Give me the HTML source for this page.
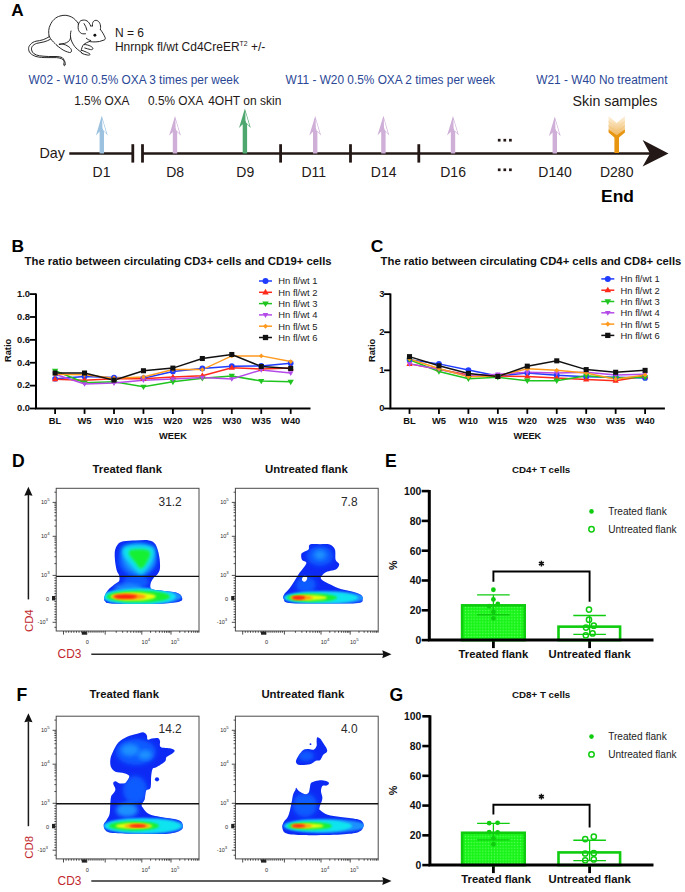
<!DOCTYPE html>
<html><head><meta charset="utf-8"><title>Figure</title>
<style>
html,body{margin:0;padding:0;background:#fff;}
body{width:685px;height:892px;overflow:hidden;}
svg{display:block;}
svg text{font-family:"Liberation Sans",sans-serif;}
</style></head><body>
<svg width="685" height="892" viewBox="0 0 685 892">
<rect width="685" height="892" fill="#fff"/>
<text x="11.2" y="16" font-size="17.2" font-weight="bold" fill="#000">A</text>
<g fill="none" stroke="#1e1e1e" stroke-width="0.95" stroke-linecap="round" stroke-linejoin="round">
<path d="M49.1,36.1 C48.3,32.5 48.6,28 50.2,25.1 C51.3,22.5 52.6,20.8 54.2,19.3 C56,17.6 58,16.5 60,16 C62,15.4 64,15.2 65.9,15.3 C68,15.5 70,16.2 71.7,17.1 C74.5,18.6 76.7,21 78.4,23.6"/>
<path d="M78.4,24.4 C79,22 80.3,20.6 81.9,20.3 C83.5,19.9 85.5,20 87,20.9 C88.6,21.9 89.8,23.6 90.6,25.9"/>
<path d="M78.4,24.4 C77.9,26.8 78,29 78.8,30.6 C79.6,32.3 80.9,33.4 82.3,33.7 C83.4,33.9 84.5,33.9 85.5,33.8"/>
<path d="M84.1,23.6 C85.4,25.4 86.4,27.8 86.9,30.2"/>
<path d="M90.6,25.9 C91.3,26.1 92,26.1 92.5,25.9"/>
<path d="M92.5,25.9 C92.3,24.2 92.5,22.7 93.3,21.6 C94,20.7 95,20.3 95.9,20.3 C97.2,20.4 98.4,21.1 99.2,22.2 C100.2,23.7 100.6,25.5 100.6,27.4 C100.6,28.2 100.5,28.9 100.4,29.5"/>
<path d="M100.4,29.5 C102.2,31.8 103.9,34.6 105,37.3 C105.6,38.6 105.3,39.6 104.2,40 C102.6,40.6 100.9,41.1 99.4,41.5 C97,41.9 94.8,42 92.8,41.9 C91.4,41.8 90.4,41.6 89.4,41.5"/>
<path d="M86.3,38.2 C87.6,39.4 89.1,40.2 90.7,40.5"/>
<path d="M89.4,41.5 C87.6,42.1 85.7,43 84.2,44.1 C83,45 82.2,46.4 81.9,47.8 C81.5,49 81.3,50 81.2,50.7"/>
<path d="M84.2,44.6 C86.4,44.4 88.6,45.2 90.6,46.2 C91.9,46.8 92.8,47.7 92.9,48.6 C92.9,49.4 91.9,49.8 90.7,49.6 C88.7,49.3 86.7,48.5 84.8,48"/>
<path d="M81.5,50.2 C83.2,50.8 85,51.5 86.5,52.2 C88,52.8 89.4,53.4 90,54.1 C90.4,54.8 89.3,55.3 87.8,55.1 C85.8,54.8 83.7,54.1 81.9,53.4"/>
<path d="M71,31 C70.4,33.2 70.3,35.5 70.6,37.5 C71,40.5 72.5,43.4 74.6,46.4 C76.3,48.6 78.5,50.2 81.9,52.8"/>
<path d="M70.6,37.5 C70.2,39.4 69.5,40.6 68.8,41.2 C67.4,42.4 65.9,43.1 64.4,43.4 C62.6,43.8 61,44 59.3,44.1"/>
<path d="M59.3,44.5 C60.7,44.1 62,44 63,44.1 C64.8,44.4 66.6,45.3 68.1,46.3 C69.6,47.3 70.7,48.3 71.2,49.4 C71.6,50.4 71.6,51.3 71.2,51.9 C70.7,52.6 69.9,52.7 69.4,52.5 C68.1,52.1 66.9,51.8 65.9,51.4 C63.9,50.6 62.2,49.5 60.8,48.5 C59.5,47.6 58.3,46.7 57.1,45.6"/>
<path d="M49.1,36.1 C49.9,37.8 50.9,39.3 52,40.5 C53,41.6 54,42.6 54.9,43.4 C55.6,44.1 56.3,44.9 57.1,45.6"/>
<path d="M49.1,36.8 C47.2,37.9 45.3,38.9 43.2,39.7 C40.8,40.5 38.3,40.8 36,41.2 C33.8,41.7 32,42.7 30.8,44.1 C29.3,45.6 28.5,47 28.6,48.5 C28.6,50.3 29.1,51.8 30.1,52.9 C31.5,54.5 33.6,55.7 36,56.5 C39.5,57.4 43.2,57.6 46.9,57.6 C50.1,57.6 53.3,57.5 56.4,57.6 C58.3,57.7 60.1,58.1 61.5,58.7 C63.1,59.5 64.2,60.5 64.8,61.6 C65.3,62.6 65.4,63.7 65.1,64.6"/>
<path d="M50.2,39.4 C48.3,40.4 46.2,41.3 44,41.9 C41.6,42.5 39.1,42.8 36.7,43.4 C34.8,44 33.2,45 32.3,46.3 C31.5,47.5 31.3,48.8 31.6,50 C31.9,51.5 32.7,52.7 33.8,53.6 C35.5,54.8 37.5,55.5 39.6,55.8 C42.5,56.2 45.5,56.4 48.4,56.5 C51.3,56.5 54.2,56.4 57.1,56.5 C58.9,56.6 60.7,57 62.2,57.6 C63.3,58.3 63.9,59.4 64.1,60.5 C64.3,61.9 64,63.3 63.7,64.6 C63.7,65.3 64.1,65.7 64.4,65.7 C64.8,65.7 65.1,65.2 65.1,64.6"/>
</g>
<circle cx="94.9" cy="35.2" r="1.45" fill="#111"/>
<text x="114.9" y="36.5" font-size="12.0" fill="#231815">N = 6</text>
<text x="114.9" y="50.5" font-size="12.0" fill="#231815">Hnrnpk fl/wt Cd4CreER<tspan font-size="6.8" dy="-4.5">T2</tspan><tspan dy="4.5"> +/-</tspan></text>
<text x="28.6" y="83.5" font-size="11.87" fill="#2a4796">W02 - W10 0.5% OXA 3 times per week</text>
<text x="285.6" y="83.5" font-size="11.87" fill="#2a4796">W11 - W20 0.5% OXA 2 times per week</text>
<text x="536.3" y="83.5" font-size="11.87" fill="#2a4796">W21 - W40 No treatment</text>
<text x="74.2" y="104.6" font-size="11.85" fill="#231815">1.5% OXA</text>
<text x="148.0" y="104.6" font-size="11.85" fill="#231815">0.5% OXA</text>
<text x="208.2" y="104.6" font-size="12.0" fill="#231815">4OHT on skin</text>
<text x="572.6" y="105.5" font-size="14.25" fill="#231815">Skin samples</text>
<line x1="69.3" y1="153.5" x2="132.8" y2="153.5" stroke="#231815" stroke-width="2.7"/>
<line x1="142.5" y1="153.5" x2="652" y2="153.5" stroke="#231815" stroke-width="2.7"/>
<line x1="132.8" y1="144.2" x2="132.8" y2="162.6" stroke="#231815" stroke-width="2.8"/>
<line x1="142.5" y1="144.2" x2="142.5" y2="162.6" stroke="#231815" stroke-width="2.8"/>
<line x1="280.6" y1="144.2" x2="280.6" y2="162.6" stroke="#231815" stroke-width="2.8"/>
<line x1="350.5" y1="144.2" x2="350.5" y2="162.6" stroke="#231815" stroke-width="2.8"/>
<line x1="418.8" y1="144.2" x2="418.8" y2="162.6" stroke="#231815" stroke-width="2.8"/>
<path d="M642.6,140 L668.5,153.5 L642.6,166.6 L650,153.5 Z" fill="#231815"/>
<path d="M101.8,115.8 L107.7,135.4 L104.0,131.6 L104.0,153.5 L99.6,153.5 L99.6,131.6 L95.89999999999999,135.4 Z" fill="#9cc2e0"/>
<path d="M102.2,119.0 L106.39999999999999,133.4 L103.2,130.0 L102.39999999999999,127.8 Z" fill="#fff"/>
<path d="M175.0,116.1 L180.9,135.7 L177.2,131.9 L177.2,153.5 L172.8,153.5 L172.8,131.9 L169.1,135.7 Z" fill="#cfaed8"/>
<path d="M175.4,119.3 L179.6,133.7 L176.4,130.29999999999998 L175.6,128.1 Z" fill="#fff"/>
<path d="M244.9,108.5 L250.8,128.1 L247.1,124.3 L247.1,153.5 L242.70000000000002,153.5 L242.70000000000002,124.3 L239.0,128.1 Z" fill="#4fa770"/>
<path d="M245.3,111.7 L249.5,126.1 L246.3,122.7 L245.5,120.5 Z" fill="#fff"/>
<path d="M315.2,116.0 L321.09999999999997,135.6 L317.4,131.8 L317.4,153.5 L313.0,153.5 L313.0,131.8 L309.3,135.6 Z" fill="#cfaed8"/>
<path d="M315.59999999999997,119.2 L319.8,133.6 L316.59999999999997,130.2 L315.8,128.0 Z" fill="#fff"/>
<path d="M383.4,115.8 L389.29999999999995,135.4 L385.59999999999997,131.6 L385.59999999999997,153.5 L381.2,153.5 L381.2,131.6 L377.5,135.4 Z" fill="#cfaed8"/>
<path d="M383.79999999999995,119.0 L388.0,133.4 L384.79999999999995,130.0 L384.0,127.8 Z" fill="#fff"/>
<path d="M453.0,116.0 L458.9,135.6 L455.2,131.8 L455.2,153.5 L450.8,153.5 L450.8,131.8 L447.1,135.6 Z" fill="#cfaed8"/>
<path d="M453.4,119.2 L457.6,133.6 L454.4,130.2 L453.6,128.0 Z" fill="#fff"/>
<path d="M554.8,116.6 L560.6999999999999,136.2 L557.0,132.4 L557.0,153.5 L552.5999999999999,153.5 L552.5999999999999,132.4 L548.9,136.2 Z" fill="#cfaed8"/>
<path d="M555.1999999999999,119.8 L559.4,134.2 L556.1999999999999,130.79999999999998 L555.4,128.6 Z" fill="#fff"/>
<defs><linearGradient id="fg" x1="0" y1="115.9" x2="0" y2="134" gradientUnits="userSpaceOnUse">
<stop offset="0" stop-color="#fdf1de"/><stop offset="0.45" stop-color="#f8dcae"/><stop offset="1" stop-color="#f0bb66"/></linearGradient></defs>
<rect x="614.4" y="134" width="4.6" height="19" fill="#e8950f"/>
<path d="M608.6,115.9 L616.7,122.9 L624.9,115.9 L624.9,130.5 L616.7,137 L608.6,130.5 Z" fill="url(#fg)"/>
<g fill="none" stroke-width="0.9"><path d="M608.6,121.6 L616.7,128.2 L624.9,121.6" stroke="#f6d29a"/><path d="M608.6,125.8 L616.7,132.2 L624.9,125.8" stroke="#f2c37c"/></g>
<path d="M608.6,129.5 L616.7,135.3 L624.9,129.5 L624.9,132.5 L619,137.6 L614.4,137.6 L608.6,132.5 Z" fill="#e8950f"/>
<text x="101.5" y="176.5" font-size="14" text-anchor="middle" fill="#231815">D1</text>
<text x="175.2" y="176.5" font-size="14" text-anchor="middle" fill="#231815">D8</text>
<text x="245.3" y="176.5" font-size="14" text-anchor="middle" fill="#231815">D9</text>
<text x="313.8" y="176.5" font-size="14" text-anchor="middle" fill="#231815">D11</text>
<text x="383.7" y="176.5" font-size="14" text-anchor="middle" fill="#231815">D14</text>
<text x="453.1" y="176.5" font-size="14" text-anchor="middle" fill="#231815">D16</text>
<text x="555.1" y="176.5" font-size="14" text-anchor="middle" fill="#231815">D140</text>
<text x="616.7" y="176.5" font-size="14" text-anchor="middle" fill="#231815">D280</text>
<rect x="497.84999999999997" y="138.85" width="2.7" height="2.7" fill="#231815"/>
<rect x="503.45" y="138.85" width="2.7" height="2.7" fill="#231815"/>
<rect x="509.04999999999995" y="138.85" width="2.7" height="2.7" fill="#231815"/>
<rect x="497.84999999999997" y="168.45000000000002" width="2.7" height="2.7" fill="#231815"/>
<rect x="503.45" y="168.45000000000002" width="2.7" height="2.7" fill="#231815"/>
<rect x="509.04999999999995" y="168.45000000000002" width="2.7" height="2.7" fill="#231815"/>
<text x="39.4" y="157.5" font-size="14.3" fill="#231815">Day</text>
<text x="617.5" y="201.8" font-size="17.4" font-weight="bold" text-anchor="middle" fill="#000">End</text>
<text x="11.6" y="251.6" font-size="17.4" font-weight="bold" fill="#000">B</text>
<text x="24.6" y="264.6" font-size="11.3" font-weight="bold" fill="#111">The ratio between circulating CD3+ cells and CD19+ cells</text>
<path d="M36.0,293.5 L36.0,408.5 L310.5,408.5" fill="none" stroke="#000" stroke-width="2.0"/>
<line x1="29.7" y1="408.50" x2="36.0" y2="408.50" stroke="#000" stroke-width="1.8"/>
<text x="30.1" y="411.3" font-size="9.4" font-weight="bold" text-anchor="end" fill="#111">0.0</text>
<line x1="29.7" y1="385.62" x2="36.0" y2="385.62" stroke="#000" stroke-width="1.8"/>
<text x="30.1" y="388.42" font-size="9.4" font-weight="bold" text-anchor="end" fill="#111">0.2</text>
<line x1="29.7" y1="362.74" x2="36.0" y2="362.74" stroke="#000" stroke-width="1.8"/>
<text x="30.1" y="365.54" font-size="9.4" font-weight="bold" text-anchor="end" fill="#111">0.4</text>
<line x1="29.7" y1="339.86" x2="36.0" y2="339.86" stroke="#000" stroke-width="1.8"/>
<text x="30.1" y="342.66" font-size="9.4" font-weight="bold" text-anchor="end" fill="#111">0.6</text>
<line x1="29.7" y1="316.98" x2="36.0" y2="316.98" stroke="#000" stroke-width="1.8"/>
<text x="30.1" y="319.78" font-size="9.4" font-weight="bold" text-anchor="end" fill="#111">0.8</text>
<line x1="29.7" y1="294.10" x2="36.0" y2="294.10" stroke="#000" stroke-width="1.8"/>
<text x="30.1" y="296.9" font-size="9.4" font-weight="bold" text-anchor="end" fill="#111">1.0</text>
<line x1="55.10" y1="408.5" x2="55.10" y2="413.9" stroke="#000" stroke-width="1.8"/>
<text x="55.1" y="423.7" font-size="9.4" font-weight="bold" text-anchor="middle" fill="#111">BL</text>
<line x1="84.55" y1="408.5" x2="84.55" y2="413.9" stroke="#000" stroke-width="1.8"/>
<text x="84.55" y="423.7" font-size="9.4" font-weight="bold" text-anchor="middle" fill="#111">W5</text>
<line x1="114.00" y1="408.5" x2="114.00" y2="413.9" stroke="#000" stroke-width="1.8"/>
<text x="114.0" y="423.7" font-size="9.4" font-weight="bold" text-anchor="middle" fill="#111">W10</text>
<line x1="143.45" y1="408.5" x2="143.45" y2="413.9" stroke="#000" stroke-width="1.8"/>
<text x="143.45" y="423.7" font-size="9.4" font-weight="bold" text-anchor="middle" fill="#111">W15</text>
<line x1="172.90" y1="408.5" x2="172.90" y2="413.9" stroke="#000" stroke-width="1.8"/>
<text x="172.9" y="423.7" font-size="9.4" font-weight="bold" text-anchor="middle" fill="#111">W20</text>
<line x1="202.35" y1="408.5" x2="202.35" y2="413.9" stroke="#000" stroke-width="1.8"/>
<text x="202.35" y="423.7" font-size="9.4" font-weight="bold" text-anchor="middle" fill="#111">W25</text>
<line x1="231.80" y1="408.5" x2="231.80" y2="413.9" stroke="#000" stroke-width="1.8"/>
<text x="231.8" y="423.7" font-size="9.4" font-weight="bold" text-anchor="middle" fill="#111">W30</text>
<line x1="261.25" y1="408.5" x2="261.25" y2="413.9" stroke="#000" stroke-width="1.8"/>
<text x="261.25" y="423.7" font-size="9.4" font-weight="bold" text-anchor="middle" fill="#111">W35</text>
<line x1="290.70" y1="408.5" x2="290.70" y2="413.9" stroke="#000" stroke-width="1.8"/>
<text x="290.7" y="423.7" font-size="9.4" font-weight="bold" text-anchor="middle" fill="#111">W40</text>
<text x="173.0" y="439.2" font-size="9.3" font-weight="bold" text-anchor="middle" fill="#111">WEEK</text>
<text transform="translate(11.3,350.4) rotate(-90)" font-size="9.3" font-weight="bold" fill="#111" text-anchor="middle">Ratio</text>
<polyline points="55.10,378.76 84.55,376.47 114.00,377.61 143.45,378.18 172.90,371.43 202.35,368.46 231.80,366.17 261.25,365.94 290.70,363.20" fill="none" stroke="#1f3cff" stroke-width="1.5"/>
<polyline points="55.10,379.33 84.55,380.13 114.00,378.76 143.45,378.76 172.90,376.93 202.35,375.67 231.80,367.77 261.25,369.03 290.70,368.12" fill="none" stroke="#ff2a1a" stroke-width="1.5"/>
<polyline points="55.10,370.75 84.55,382.65 114.00,381.84 143.45,386.76 172.90,381.84 202.35,378.18 231.80,375.90 261.25,381.04 290.70,381.84" fill="none" stroke="#1fc41f" stroke-width="1.5"/>
<polyline points="55.10,374.18 84.55,383.90 114.00,383.10 143.45,380.13 172.90,378.98 202.35,377.61 231.80,378.98 261.25,369.95 290.70,373.04" fill="none" stroke="#b44be8" stroke-width="1.5"/>
<polyline points="55.10,374.18 84.55,374.75 114.00,378.18 143.45,376.93 172.90,369.60 202.35,369.60 231.80,355.88 261.25,355.88 290.70,361.60" fill="none" stroke="#ff9a1f" stroke-width="1.5"/>
<polyline points="55.10,373.04 84.55,373.04 114.00,380.13 143.45,370.75 172.90,368.12 202.35,358.51 231.80,354.50 261.25,366.52 290.70,368.46" fill="none" stroke="#111111" stroke-width="1.5"/>
<circle cx="55.10" cy="378.76" r="2.86" fill="#1f3cff"/>
<circle cx="84.55" cy="376.47" r="2.86" fill="#1f3cff"/>
<circle cx="114.00" cy="377.61" r="2.86" fill="#1f3cff"/>
<circle cx="143.45" cy="378.18" r="2.86" fill="#1f3cff"/>
<circle cx="172.90" cy="371.43" r="2.86" fill="#1f3cff"/>
<circle cx="202.35" cy="368.46" r="2.86" fill="#1f3cff"/>
<circle cx="231.80" cy="366.17" r="2.86" fill="#1f3cff"/>
<circle cx="261.25" cy="365.94" r="2.86" fill="#1f3cff"/>
<circle cx="290.70" cy="363.20" r="2.86" fill="#1f3cff"/>
<path d="M55.10,376.03 L58.23,381.37 L51.97,381.37 Z" fill="#ff2a1a"/>
<path d="M84.55,376.83 L87.69,382.17 L81.41,382.17 Z" fill="#ff2a1a"/>
<path d="M114.00,375.46 L117.14,380.80 L110.86,380.80 Z" fill="#ff2a1a"/>
<path d="M143.45,375.46 L146.58,380.80 L140.31,380.80 Z" fill="#ff2a1a"/>
<path d="M172.90,373.63 L176.03,378.97 L169.77,378.97 Z" fill="#ff2a1a"/>
<path d="M202.35,372.37 L205.48,377.71 L199.22,377.71 Z" fill="#ff2a1a"/>
<path d="M231.80,364.47 L234.93,369.82 L228.66,369.82 Z" fill="#ff2a1a"/>
<path d="M261.25,365.73 L264.38,371.08 L258.12,371.08 Z" fill="#ff2a1a"/>
<path d="M290.70,364.82 L293.83,370.16 L287.56,370.16 Z" fill="#ff2a1a"/>
<path d="M55.10,374.05 L58.23,368.70 L51.97,368.70 Z" fill="#1fc41f"/>
<path d="M84.55,385.95 L87.69,380.60 L81.41,380.60 Z" fill="#1fc41f"/>
<path d="M114.00,385.14 L117.14,379.80 L110.86,379.80 Z" fill="#1fc41f"/>
<path d="M143.45,390.06 L146.58,384.72 L140.31,384.72 Z" fill="#1fc41f"/>
<path d="M172.90,385.14 L176.03,379.80 L169.77,379.80 Z" fill="#1fc41f"/>
<path d="M202.35,381.48 L205.48,376.14 L199.22,376.14 Z" fill="#1fc41f"/>
<path d="M231.80,379.20 L234.93,373.85 L228.66,373.85 Z" fill="#1fc41f"/>
<path d="M261.25,384.34 L264.38,379.00 L258.12,379.00 Z" fill="#1fc41f"/>
<path d="M290.70,385.14 L293.83,379.80 L287.56,379.80 Z" fill="#1fc41f"/>
<path d="M55.10,377.04 L57.82,372.41 L52.38,372.41 Z" fill="#b44be8"/>
<path d="M84.55,386.76 L87.27,382.13 L81.83,382.13 Z" fill="#b44be8"/>
<path d="M114.00,385.96 L116.72,381.33 L111.28,381.33 Z" fill="#b44be8"/>
<path d="M143.45,382.99 L146.17,378.36 L140.73,378.36 Z" fill="#b44be8"/>
<path d="M172.90,381.84 L175.62,377.21 L170.18,377.21 Z" fill="#b44be8"/>
<path d="M202.35,380.47 L205.07,375.84 L199.63,375.84 Z" fill="#b44be8"/>
<path d="M231.80,381.84 L234.52,377.21 L229.08,377.21 Z" fill="#b44be8"/>
<path d="M261.25,372.81 L263.97,368.17 L258.53,368.17 Z" fill="#b44be8"/>
<path d="M290.70,375.90 L293.42,371.26 L287.98,371.26 Z" fill="#b44be8"/>
<path d="M55.10,371.76 L57.52,374.18 L55.10,376.60 L52.68,374.18 Z" fill="#ff9a1f"/>
<path d="M84.55,372.33 L86.97,374.75 L84.55,377.17 L82.13,374.75 Z" fill="#ff9a1f"/>
<path d="M114.00,375.76 L116.42,378.18 L114.00,380.60 L111.58,378.18 Z" fill="#ff9a1f"/>
<path d="M143.45,374.51 L145.87,376.93 L143.45,379.35 L141.03,376.93 Z" fill="#ff9a1f"/>
<path d="M172.90,367.18 L175.32,369.60 L172.90,372.02 L170.48,369.60 Z" fill="#ff9a1f"/>
<path d="M202.35,367.18 L204.77,369.60 L202.35,372.02 L199.93,369.60 Z" fill="#ff9a1f"/>
<path d="M231.80,353.46 L234.22,355.88 L231.80,358.30 L229.38,355.88 Z" fill="#ff9a1f"/>
<path d="M261.25,353.46 L263.67,355.88 L261.25,358.30 L258.83,355.88 Z" fill="#ff9a1f"/>
<path d="M290.70,359.18 L293.12,361.60 L290.70,364.02 L288.28,361.60 Z" fill="#ff9a1f"/>
<rect x="52.57" y="370.51" width="5.06" height="5.06" fill="#111111"/>
<rect x="82.02" y="370.51" width="5.06" height="5.06" fill="#111111"/>
<rect x="111.47" y="377.60" width="5.06" height="5.06" fill="#111111"/>
<rect x="140.92" y="368.22" width="5.06" height="5.06" fill="#111111"/>
<rect x="170.37" y="365.59" width="5.06" height="5.06" fill="#111111"/>
<rect x="199.82" y="355.98" width="5.06" height="5.06" fill="#111111"/>
<rect x="229.27" y="351.97" width="5.06" height="5.06" fill="#111111"/>
<rect x="258.72" y="363.99" width="5.06" height="5.06" fill="#111111"/>
<rect x="288.17" y="365.93" width="5.06" height="5.06" fill="#111111"/>
<line x1="259" y1="281.00" x2="272" y2="281.00" stroke="#1f3cff" stroke-width="1.5"/>
<circle cx="265.50" cy="281.00" r="2.99" fill="#1f3cff"/>
<text x="278.3" y="284.4" font-size="9.4" fill="#222">Hn fl/wt 1</text>
<line x1="259" y1="292.30" x2="272" y2="292.30" stroke="#ff2a1a" stroke-width="1.5"/>
<path d="M265.50,288.85 L268.78,294.44 L262.22,294.44 Z" fill="#ff2a1a"/>
<text x="278.3" y="295.7" font-size="9.4" fill="#222">Hn fl/wt 2</text>
<line x1="259" y1="303.60" x2="272" y2="303.60" stroke="#1fc41f" stroke-width="1.5"/>
<path d="M265.50,307.05 L268.78,301.46 L262.22,301.46 Z" fill="#1fc41f"/>
<text x="278.3" y="307.0" font-size="9.4" fill="#222">Hn fl/wt 3</text>
<line x1="259" y1="314.90" x2="272" y2="314.90" stroke="#b44be8" stroke-width="1.5"/>
<path d="M265.50,317.89 L268.34,313.05 L262.66,313.05 Z" fill="#b44be8"/>
<text x="278.3" y="318.3" font-size="9.4" fill="#222">Hn fl/wt 4</text>
<line x1="259" y1="326.20" x2="272" y2="326.20" stroke="#ff9a1f" stroke-width="1.5"/>
<path d="M265.50,323.67 L268.03,326.20 L265.50,328.73 L262.97,326.20 Z" fill="#ff9a1f"/>
<text x="278.3" y="329.6" font-size="9.4" fill="#222">Hn fl/wt 5</text>
<line x1="259" y1="337.50" x2="272" y2="337.50" stroke="#111111" stroke-width="1.5"/>
<rect x="262.86" y="334.86" width="5.29" height="5.29" fill="#111111"/>
<text x="278.3" y="340.9" font-size="9.4" fill="#222">Hn fl/wt 6</text>
<text x="370.8" y="251.6" font-size="17.4" font-weight="bold" fill="#000">C</text>
<text x="380.6" y="264.6" font-size="11.3" font-weight="bold" fill="#111">The ratio between circulating CD4+ cells and CD8+ cells</text>
<path d="M390.4,293.5 L390.4,408.5 L664.9,408.5" fill="none" stroke="#000" stroke-width="2.0"/>
<line x1="384.09999999999997" y1="408.50" x2="390.4" y2="408.50" stroke="#000" stroke-width="1.8"/>
<text x="384.5" y="411.3" font-size="9.4" font-weight="bold" text-anchor="end" fill="#111">0</text>
<line x1="384.09999999999997" y1="370.37" x2="390.4" y2="370.37" stroke="#000" stroke-width="1.8"/>
<text x="384.5" y="373.17" font-size="9.4" font-weight="bold" text-anchor="end" fill="#111">1</text>
<line x1="384.09999999999997" y1="332.23" x2="390.4" y2="332.23" stroke="#000" stroke-width="1.8"/>
<text x="384.5" y="335.03" font-size="9.4" font-weight="bold" text-anchor="end" fill="#111">2</text>
<line x1="384.09999999999997" y1="294.10" x2="390.4" y2="294.10" stroke="#000" stroke-width="1.8"/>
<text x="384.5" y="296.9" font-size="9.4" font-weight="bold" text-anchor="end" fill="#111">3</text>
<line x1="409.50" y1="408.5" x2="409.50" y2="413.9" stroke="#000" stroke-width="1.8"/>
<text x="409.5" y="423.7" font-size="9.4" font-weight="bold" text-anchor="middle" fill="#111">BL</text>
<line x1="438.95" y1="408.5" x2="438.95" y2="413.9" stroke="#000" stroke-width="1.8"/>
<text x="438.95" y="423.7" font-size="9.4" font-weight="bold" text-anchor="middle" fill="#111">W5</text>
<line x1="468.40" y1="408.5" x2="468.40" y2="413.9" stroke="#000" stroke-width="1.8"/>
<text x="468.4" y="423.7" font-size="9.4" font-weight="bold" text-anchor="middle" fill="#111">W10</text>
<line x1="497.85" y1="408.5" x2="497.85" y2="413.9" stroke="#000" stroke-width="1.8"/>
<text x="497.85" y="423.7" font-size="9.4" font-weight="bold" text-anchor="middle" fill="#111">W15</text>
<line x1="527.30" y1="408.5" x2="527.30" y2="413.9" stroke="#000" stroke-width="1.8"/>
<text x="527.3" y="423.7" font-size="9.4" font-weight="bold" text-anchor="middle" fill="#111">W20</text>
<line x1="556.75" y1="408.5" x2="556.75" y2="413.9" stroke="#000" stroke-width="1.8"/>
<text x="556.75" y="423.7" font-size="9.4" font-weight="bold" text-anchor="middle" fill="#111">W25</text>
<line x1="586.20" y1="408.5" x2="586.20" y2="413.9" stroke="#000" stroke-width="1.8"/>
<text x="586.2" y="423.7" font-size="9.4" font-weight="bold" text-anchor="middle" fill="#111">W30</text>
<line x1="615.65" y1="408.5" x2="615.65" y2="413.9" stroke="#000" stroke-width="1.8"/>
<text x="615.65" y="423.7" font-size="9.4" font-weight="bold" text-anchor="middle" fill="#111">W35</text>
<line x1="645.10" y1="408.5" x2="645.10" y2="413.9" stroke="#000" stroke-width="1.8"/>
<text x="645.1" y="423.7" font-size="9.4" font-weight="bold" text-anchor="middle" fill="#111">W40</text>
<text x="527.4" y="439.2" font-size="9.3" font-weight="bold" text-anchor="middle" fill="#111">WEEK</text>
<text transform="translate(374.7,350.4) rotate(-90)" font-size="9.3" font-weight="bold" fill="#111" text-anchor="middle">Ratio</text>
<polyline points="409.50,359.69 438.95,363.88 468.40,369.99 497.85,376.09 527.30,373.04 556.75,375.32 586.20,376.85 615.65,377.23 645.10,377.99" fill="none" stroke="#1f3cff" stroke-width="1.5"/>
<polyline points="409.50,363.88 438.95,369.22 468.40,374.94 497.85,376.09 527.30,376.47 556.75,377.99 586.20,379.52 615.65,380.66 645.10,376.09" fill="none" stroke="#ff2a1a" stroke-width="1.5"/>
<polyline points="409.50,359.69 438.95,371.51 468.40,378.76 497.85,377.23 527.30,380.66 556.75,380.66 586.20,375.71 615.65,377.99 645.10,377.23" fill="none" stroke="#1fc41f" stroke-width="1.5"/>
<polyline points="409.50,363.88 438.95,369.22 468.40,376.09 497.85,374.18 527.30,372.27 556.75,373.04 586.20,372.27 615.65,374.94 645.10,374.18" fill="none" stroke="#b44be8" stroke-width="1.5"/>
<polyline points="409.50,358.93 438.95,368.46 468.40,376.85 497.85,376.09 527.30,368.84 556.75,370.37 586.20,373.04 615.65,379.14 645.10,374.94" fill="none" stroke="#ff9a1f" stroke-width="1.5"/>
<polyline points="409.50,356.64 438.95,365.79 468.40,373.42 497.85,376.47 527.30,366.17 556.75,360.83 586.20,369.60 615.65,372.27 645.10,370.37" fill="none" stroke="#111111" stroke-width="1.5"/>
<circle cx="409.50" cy="359.69" r="2.86" fill="#1f3cff"/>
<circle cx="438.95" cy="363.88" r="2.86" fill="#1f3cff"/>
<circle cx="468.40" cy="369.99" r="2.86" fill="#1f3cff"/>
<circle cx="497.85" cy="376.09" r="2.86" fill="#1f3cff"/>
<circle cx="527.30" cy="373.04" r="2.86" fill="#1f3cff"/>
<circle cx="556.75" cy="375.32" r="2.86" fill="#1f3cff"/>
<circle cx="586.20" cy="376.85" r="2.86" fill="#1f3cff"/>
<circle cx="615.65" cy="377.23" r="2.86" fill="#1f3cff"/>
<circle cx="645.10" cy="377.99" r="2.86" fill="#1f3cff"/>
<path d="M409.50,360.58 L412.63,365.93 L406.37,365.93 Z" fill="#ff2a1a"/>
<path d="M438.95,365.92 L442.08,371.27 L435.81,371.27 Z" fill="#ff2a1a"/>
<path d="M468.40,371.64 L471.53,376.99 L465.26,376.99 Z" fill="#ff2a1a"/>
<path d="M497.85,372.79 L500.99,378.13 L494.72,378.13 Z" fill="#ff2a1a"/>
<path d="M527.30,373.17 L530.43,378.51 L524.16,378.51 Z" fill="#ff2a1a"/>
<path d="M556.75,374.69 L559.88,380.04 L553.62,380.04 Z" fill="#ff2a1a"/>
<path d="M586.20,376.22 L589.34,381.56 L583.07,381.56 Z" fill="#ff2a1a"/>
<path d="M615.65,377.36 L618.78,382.71 L612.51,382.71 Z" fill="#ff2a1a"/>
<path d="M645.10,372.79 L648.24,378.13 L641.97,378.13 Z" fill="#ff2a1a"/>
<path d="M409.50,362.99 L412.63,357.64 L406.37,357.64 Z" fill="#1fc41f"/>
<path d="M438.95,374.81 L442.08,369.46 L435.81,369.46 Z" fill="#1fc41f"/>
<path d="M468.40,382.06 L471.53,376.71 L465.26,376.71 Z" fill="#1fc41f"/>
<path d="M497.85,380.53 L500.99,375.18 L494.72,375.18 Z" fill="#1fc41f"/>
<path d="M527.30,383.96 L530.43,378.62 L524.16,378.62 Z" fill="#1fc41f"/>
<path d="M556.75,383.96 L559.88,378.62 L553.62,378.62 Z" fill="#1fc41f"/>
<path d="M586.20,379.01 L589.34,373.66 L583.07,373.66 Z" fill="#1fc41f"/>
<path d="M615.65,381.29 L618.78,375.95 L612.51,375.95 Z" fill="#1fc41f"/>
<path d="M645.10,380.53 L648.24,375.18 L641.97,375.18 Z" fill="#1fc41f"/>
<path d="M409.50,366.74 L412.22,362.11 L406.78,362.11 Z" fill="#b44be8"/>
<path d="M438.95,372.08 L441.67,367.45 L436.23,367.45 Z" fill="#b44be8"/>
<path d="M468.40,378.95 L471.12,374.31 L465.68,374.31 Z" fill="#b44be8"/>
<path d="M497.85,377.04 L500.57,372.41 L495.13,372.41 Z" fill="#b44be8"/>
<path d="M527.30,375.13 L530.02,370.50 L524.58,370.50 Z" fill="#b44be8"/>
<path d="M556.75,375.90 L559.47,371.26 L554.03,371.26 Z" fill="#b44be8"/>
<path d="M586.20,375.13 L588.92,370.50 L583.48,370.50 Z" fill="#b44be8"/>
<path d="M615.65,377.80 L618.37,373.17 L612.93,373.17 Z" fill="#b44be8"/>
<path d="M645.10,377.04 L647.82,372.41 L642.38,372.41 Z" fill="#b44be8"/>
<path d="M409.50,356.51 L411.92,358.93 L409.50,361.35 L407.08,358.93 Z" fill="#ff9a1f"/>
<path d="M438.95,366.04 L441.37,368.46 L438.95,370.88 L436.53,368.46 Z" fill="#ff9a1f"/>
<path d="M468.40,374.43 L470.82,376.85 L468.40,379.27 L465.98,376.85 Z" fill="#ff9a1f"/>
<path d="M497.85,373.67 L500.27,376.09 L497.85,378.51 L495.43,376.09 Z" fill="#ff9a1f"/>
<path d="M527.30,366.42 L529.72,368.84 L527.30,371.26 L524.88,368.84 Z" fill="#ff9a1f"/>
<path d="M556.75,367.95 L559.17,370.37 L556.75,372.79 L554.33,370.37 Z" fill="#ff9a1f"/>
<path d="M586.20,370.62 L588.62,373.04 L586.20,375.46 L583.78,373.04 Z" fill="#ff9a1f"/>
<path d="M615.65,376.72 L618.07,379.14 L615.65,381.56 L613.23,379.14 Z" fill="#ff9a1f"/>
<path d="M645.10,372.52 L647.52,374.94 L645.10,377.36 L642.68,374.94 Z" fill="#ff9a1f"/>
<rect x="406.97" y="354.11" width="5.06" height="5.06" fill="#111111"/>
<rect x="436.42" y="363.26" width="5.06" height="5.06" fill="#111111"/>
<rect x="465.87" y="370.89" width="5.06" height="5.06" fill="#111111"/>
<rect x="495.32" y="373.94" width="5.06" height="5.06" fill="#111111"/>
<rect x="524.77" y="363.64" width="5.06" height="5.06" fill="#111111"/>
<rect x="554.22" y="358.30" width="5.06" height="5.06" fill="#111111"/>
<rect x="583.67" y="367.07" width="5.06" height="5.06" fill="#111111"/>
<rect x="613.12" y="369.74" width="5.06" height="5.06" fill="#111111"/>
<rect x="642.57" y="367.84" width="5.06" height="5.06" fill="#111111"/>
<line x1="601.3" y1="278.90" x2="614.3" y2="278.90" stroke="#1f3cff" stroke-width="1.5"/>
<circle cx="607.80" cy="278.90" r="2.99" fill="#1f3cff"/>
<text x="620.5999999999999" y="282.3" font-size="9.4" fill="#222">Hn fl/wt 1</text>
<line x1="601.3" y1="290.20" x2="614.3" y2="290.20" stroke="#ff2a1a" stroke-width="1.5"/>
<path d="M607.80,286.75 L611.08,292.34 L604.52,292.34 Z" fill="#ff2a1a"/>
<text x="620.5999999999999" y="293.6" font-size="9.4" fill="#222">Hn fl/wt 2</text>
<line x1="601.3" y1="301.50" x2="614.3" y2="301.50" stroke="#1fc41f" stroke-width="1.5"/>
<path d="M607.80,304.95 L611.08,299.36 L604.52,299.36 Z" fill="#1fc41f"/>
<text x="620.5999999999999" y="304.9" font-size="9.4" fill="#222">Hn fl/wt 3</text>
<line x1="601.3" y1="312.80" x2="614.3" y2="312.80" stroke="#b44be8" stroke-width="1.5"/>
<path d="M607.80,315.79 L610.64,310.95 L604.96,310.95 Z" fill="#b44be8"/>
<text x="620.5999999999999" y="316.2" font-size="9.4" fill="#222">Hn fl/wt 4</text>
<line x1="601.3" y1="324.10" x2="614.3" y2="324.10" stroke="#ff9a1f" stroke-width="1.5"/>
<path d="M607.80,321.57 L610.33,324.10 L607.80,326.63 L605.27,324.10 Z" fill="#ff9a1f"/>
<text x="620.5999999999999" y="327.5" font-size="9.4" fill="#222">Hn fl/wt 5</text>
<line x1="601.3" y1="335.40" x2="614.3" y2="335.40" stroke="#111111" stroke-width="1.5"/>
<rect x="605.15" y="332.75" width="5.29" height="5.29" fill="#111111"/>
<text x="620.5999999999999" y="338.8" font-size="9.4" fill="#222">Hn fl/wt 6</text>
<defs>
<filter id="b1" x="-20%" y="-20%" width="140%" height="140%"><feGaussianBlur stdDeviation="1.1"/></filter>
<filter id="b2" x="-20%" y="-20%" width="140%" height="140%"><feGaussianBlur stdDeviation="2.2"/></filter>
<filter id="b15" x="-20%" y="-20%" width="140%" height="140%"><feGaussianBlur stdDeviation="1.6"/></filter>
<filter id="b0" x="-10%" y="-10%" width="120%" height="120%"><feGaussianBlur stdDeviation="0.45"/></filter>
<pattern id="hatch" width="2.9" height="2.9" patternUnits="userSpaceOnUse"><rect width="2.9" height="2.9" fill="#16f416"/><rect x="0.8" y="0.8" width="1.3" height="1.3" fill="#60ff60"/></pattern>
</defs>
<text x="12.0" y="467.1" font-size="17.6" font-weight="bold" fill="#000">D</text>
<text x="92.5" y="472.8" font-size="11.25" font-weight="bold" fill="#111">Treated flank</text>
<text x="265.0" y="472.8" font-size="11.4" font-weight="bold" fill="#111">Untreated flank</text>
<rect x="56.2" y="488.3" width="142.8" height="142.7" fill="none" stroke="#4a4a4a" stroke-width="1"/>
<path d="M54.40,526.10H56.2M54.40,563.63H56.2M54.40,520.13H56.2M54.40,556.74H56.2M54.40,515.89H56.2M54.40,551.86H56.2M54.40,512.60H56.2M54.40,548.07H56.2M54.40,509.92H56.2M54.40,544.97H56.2M54.40,507.65H56.2M54.40,542.36H56.2M54.40,505.69H56.2M54.40,540.09H56.2M54.40,503.95H56.2M54.40,538.09H56.2M54.40,492.20H56.2M52.60,502.40H56.2M52.60,536.30H56.2M52.60,575.40H56.2M52.60,598.80H56.2M52.60,622.30H56.2M54.40,578.00H56.2M54.40,601.41H56.2M54.40,580.60H56.2M54.40,604.02H56.2M54.40,583.20H56.2M54.40,606.63H56.2M54.40,585.80H56.2M54.40,609.24H56.2M54.40,588.40H56.2M54.40,611.86H56.2M54.40,591.00H56.2M54.40,614.47H56.2M54.40,593.60H56.2M54.40,617.08H56.2M54.40,596.20H56.2M54.40,619.69H56.2M54.40,627.30H56.2" stroke="#222" stroke-width="0.8" fill="none"/>
<rect x="52.0" y="596.0" width="3.2" height="4.4" fill="#222"/>
<text x="41.00" y="504.40" font-size="5.5" fill="#2a2a2a">10<tspan font-size="4.3" dy="-3.0">5</tspan></text>
<text x="41.00" y="538.30" font-size="5.5" fill="#2a2a2a">10<tspan font-size="4.3" dy="-3.0">4</tspan></text>
<text x="41.00" y="577.40" font-size="5.5" fill="#2a2a2a">10<tspan font-size="4.3" dy="-3.0">3</tspan></text>
<text x="45.90" y="600.80" font-size="5.6" fill="#2a2a2a">0</text>
<text x="37.60" y="624.30" font-size="5.5" fill="#2a2a2a">-10<tspan font-size="4.3" dy="-3.0">3</tspan></text>
<path d="M116.22,631.0v1.8M150.59,631.0v1.8M179.79,631.0v1.8M122.66,631.0v1.8M155.73,631.0v1.8M184.93,631.0v1.8M127.24,631.0v1.8M159.38,631.0v1.8M188.58,631.0v1.8M130.78,631.0v1.8M162.21,631.0v1.8M191.41,631.0v1.8M133.68,631.0v1.8M164.52,631.0v1.8M193.72,631.0v1.8M136.13,631.0v1.8M166.48,631.0v1.8M195.68,631.0v1.8M138.25,631.0v1.8M168.17,631.0v1.8M197.37,631.0v1.8M140.13,631.0v1.8M169.66,631.0v1.8M198.86,631.0v1.8M63.50,631.0v3.6M86.80,631.0v3.6M105.20,631.0v3.6M141.80,631.0v3.6M171.00,631.0v3.6M66.09,631.0v1.8M88.84,631.0v1.8M68.68,631.0v1.8M90.89,631.0v1.8M71.27,631.0v1.8M92.93,631.0v1.8M73.86,631.0v1.8M94.98,631.0v1.8M76.44,631.0v1.8M97.02,631.0v1.8M79.03,631.0v1.8M99.07,631.0v1.8M81.62,631.0v1.8M101.11,631.0v1.8M84.21,631.0v1.8M103.16,631.0v1.8" stroke="#222" stroke-width="0.8" fill="none"/>
<rect x="81.80" y="631.5" width="5" height="3.2" fill="#222"/>
<text x="87.30" y="643.60" font-size="5.6" fill="#2a2a2a" text-anchor="middle">0</text>
<text x="141.60" y="643.60" font-size="5.5" fill="#2a2a2a">10<tspan font-size="4.3" dy="-3.0">4</tspan></text>
<text x="170.80" y="643.60" font-size="5.5" fill="#2a2a2a">10<tspan font-size="4.3" dy="-3.0">5</tspan></text>
<text x="158.6" y="505.8" font-size="11.9" fill="#2a2a2a">31.2</text>
<rect x="235.4" y="488.3" width="142.8" height="142.7" fill="none" stroke="#4a4a4a" stroke-width="1"/>
<path d="M233.60,526.10H235.4M233.60,563.63H235.4M233.60,520.13H235.4M233.60,556.74H235.4M233.60,515.89H235.4M233.60,551.86H235.4M233.60,512.60H235.4M233.60,548.07H235.4M233.60,509.92H235.4M233.60,544.97H235.4M233.60,507.65H235.4M233.60,542.36H235.4M233.60,505.69H235.4M233.60,540.09H235.4M233.60,503.95H235.4M233.60,538.09H235.4M233.60,492.20H235.4M231.80,502.40H235.4M231.80,536.30H235.4M231.80,575.40H235.4M231.80,598.80H235.4M231.80,622.30H235.4M233.60,578.00H235.4M233.60,601.41H235.4M233.60,580.60H235.4M233.60,604.02H235.4M233.60,583.20H235.4M233.60,606.63H235.4M233.60,585.80H235.4M233.60,609.24H235.4M233.60,588.40H235.4M233.60,611.86H235.4M233.60,591.00H235.4M233.60,614.47H235.4M233.60,593.60H235.4M233.60,617.08H235.4M233.60,596.20H235.4M233.60,619.69H235.4M233.60,627.30H235.4" stroke="#222" stroke-width="0.8" fill="none"/>
<rect x="231.20000000000002" y="596.0" width="3.2" height="4.4" fill="#222"/>
<text x="220.20" y="504.40" font-size="5.5" fill="#2a2a2a">10<tspan font-size="4.3" dy="-3.0">5</tspan></text>
<text x="220.20" y="538.30" font-size="5.5" fill="#2a2a2a">10<tspan font-size="4.3" dy="-3.0">4</tspan></text>
<text x="220.20" y="577.40" font-size="5.5" fill="#2a2a2a">10<tspan font-size="4.3" dy="-3.0">3</tspan></text>
<text x="225.10" y="600.80" font-size="5.6" fill="#2a2a2a">0</text>
<text x="216.80" y="624.30" font-size="5.5" fill="#2a2a2a">-10<tspan font-size="4.3" dy="-3.0">3</tspan></text>
<path d="M295.42,631.0v1.8M329.79,631.0v1.8M358.99,631.0v1.8M301.86,631.0v1.8M334.93,631.0v1.8M364.13,631.0v1.8M306.44,631.0v1.8M338.58,631.0v1.8M367.78,631.0v1.8M309.98,631.0v1.8M341.41,631.0v1.8M370.61,631.0v1.8M312.88,631.0v1.8M343.72,631.0v1.8M372.92,631.0v1.8M315.33,631.0v1.8M345.68,631.0v1.8M374.88,631.0v1.8M317.45,631.0v1.8M347.37,631.0v1.8M376.57,631.0v1.8M319.33,631.0v1.8M348.86,631.0v1.8M378.06,631.0v1.8M242.70,631.0v3.6M266.00,631.0v3.6M284.40,631.0v3.6M321.00,631.0v3.6M350.20,631.0v3.6M245.29,631.0v1.8M268.04,631.0v1.8M247.88,631.0v1.8M270.09,631.0v1.8M250.47,631.0v1.8M272.13,631.0v1.8M253.06,631.0v1.8M274.18,631.0v1.8M255.64,631.0v1.8M276.22,631.0v1.8M258.23,631.0v1.8M278.27,631.0v1.8M260.82,631.0v1.8M280.31,631.0v1.8M263.41,631.0v1.8M282.36,631.0v1.8" stroke="#222" stroke-width="0.8" fill="none"/>
<rect x="261.00" y="631.5" width="5" height="3.2" fill="#222"/>
<text x="266.50" y="643.60" font-size="5.6" fill="#2a2a2a" text-anchor="middle">0</text>
<text x="320.80" y="643.60" font-size="5.5" fill="#2a2a2a">10<tspan font-size="4.3" dy="-3.0">4</tspan></text>
<text x="350.00" y="643.60" font-size="5.5" fill="#2a2a2a">10<tspan font-size="4.3" dy="-3.0">5</tspan></text>
<text x="341.0" y="505.8" font-size="11.9" fill="#2a2a2a">7.8</text>
<line x1="28.4" y1="494.8" x2="28.4" y2="599.4" stroke="#1a1a1a" stroke-width="1.5"/>
<path d="M28.4,486.8 L32.5,495.8 L28.4,495.0 L24.299999999999997,495.8 Z" fill="#111"/>
<text transform="translate(32.8,620.7) rotate(-90)" font-size="11.4" fill="#c1272d" text-anchor="middle">CD4</text>
<text x="57.6" y="658.3" font-size="11.9" fill="#c1272d">CD3</text>
<line x1="91.3" y1="654.3" x2="383.5" y2="654.3" stroke="#2a2a2a" stroke-width="1.6"/>
<path d="M391.5,654.3 L382.3,650.3 L383.2,654.3 L382.3,658.3 Z" fill="#111"/>
<text x="16.4" y="701.0" font-size="17.6" font-weight="bold" fill="#000">F</text>
<text x="89.6" y="697.8" font-size="11.25" font-weight="bold" fill="#111">Treated flank</text>
<text x="261.4" y="697.8" font-size="11.4" font-weight="bold" fill="#111">Untreated flank</text>
<rect x="56.2" y="716.2" width="142.8" height="142.7" fill="none" stroke="#4a4a4a" stroke-width="1"/>
<path d="M54.40,754.00H56.2M54.40,791.53H56.2M54.40,748.03H56.2M54.40,784.64H56.2M54.40,743.79H56.2M54.40,779.76H56.2M54.40,740.50H56.2M54.40,775.97H56.2M54.40,737.82H56.2M54.40,772.87H56.2M54.40,735.55H56.2M54.40,770.26H56.2M54.40,733.59H56.2M54.40,767.99H56.2M54.40,731.85H56.2M54.40,765.99H56.2M54.40,720.10H56.2M52.60,730.30H56.2M52.60,764.20H56.2M52.60,803.30H56.2M52.60,826.70H56.2M52.60,850.20H56.2M54.40,805.90H56.2M54.40,829.31H56.2M54.40,808.50H56.2M54.40,831.92H56.2M54.40,811.10H56.2M54.40,834.53H56.2M54.40,813.70H56.2M54.40,837.14H56.2M54.40,816.30H56.2M54.40,839.76H56.2M54.40,818.90H56.2M54.40,842.37H56.2M54.40,821.50H56.2M54.40,844.98H56.2M54.40,824.10H56.2M54.40,847.59H56.2M54.40,855.20H56.2" stroke="#222" stroke-width="0.8" fill="none"/>
<rect x="52.0" y="823.9000000000001" width="3.2" height="4.4" fill="#222"/>
<text x="41.00" y="732.30" font-size="5.5" fill="#2a2a2a">10<tspan font-size="4.3" dy="-3.0">5</tspan></text>
<text x="41.00" y="766.20" font-size="5.5" fill="#2a2a2a">10<tspan font-size="4.3" dy="-3.0">4</tspan></text>
<text x="41.00" y="805.30" font-size="5.5" fill="#2a2a2a">10<tspan font-size="4.3" dy="-3.0">3</tspan></text>
<text x="45.90" y="828.70" font-size="5.6" fill="#2a2a2a">0</text>
<text x="37.60" y="852.20" font-size="5.5" fill="#2a2a2a">-10<tspan font-size="4.3" dy="-3.0">3</tspan></text>
<path d="M116.22,858.9000000000001v1.8M150.59,858.9000000000001v1.8M179.79,858.9000000000001v1.8M122.66,858.9000000000001v1.8M155.73,858.9000000000001v1.8M184.93,858.9000000000001v1.8M127.24,858.9000000000001v1.8M159.38,858.9000000000001v1.8M188.58,858.9000000000001v1.8M130.78,858.9000000000001v1.8M162.21,858.9000000000001v1.8M191.41,858.9000000000001v1.8M133.68,858.9000000000001v1.8M164.52,858.9000000000001v1.8M193.72,858.9000000000001v1.8M136.13,858.9000000000001v1.8M166.48,858.9000000000001v1.8M195.68,858.9000000000001v1.8M138.25,858.9000000000001v1.8M168.17,858.9000000000001v1.8M197.37,858.9000000000001v1.8M140.13,858.9000000000001v1.8M169.66,858.9000000000001v1.8M198.86,858.9000000000001v1.8M63.50,858.9000000000001v3.6M86.80,858.9000000000001v3.6M105.20,858.9000000000001v3.6M141.80,858.9000000000001v3.6M171.00,858.9000000000001v3.6M66.09,858.9000000000001v1.8M88.84,858.9000000000001v1.8M68.68,858.9000000000001v1.8M90.89,858.9000000000001v1.8M71.27,858.9000000000001v1.8M92.93,858.9000000000001v1.8M73.86,858.9000000000001v1.8M94.98,858.9000000000001v1.8M76.44,858.9000000000001v1.8M97.02,858.9000000000001v1.8M79.03,858.9000000000001v1.8M99.07,858.9000000000001v1.8M81.62,858.9000000000001v1.8M101.11,858.9000000000001v1.8M84.21,858.9000000000001v1.8M103.16,858.9000000000001v1.8" stroke="#222" stroke-width="0.8" fill="none"/>
<rect x="81.80" y="859.4000000000001" width="5" height="3.2" fill="#222"/>
<text x="87.30" y="871.50" font-size="5.6" fill="#2a2a2a" text-anchor="middle">0</text>
<text x="141.60" y="871.50" font-size="5.5" fill="#2a2a2a">10<tspan font-size="4.3" dy="-3.0">4</tspan></text>
<text x="170.80" y="871.50" font-size="5.5" fill="#2a2a2a">10<tspan font-size="4.3" dy="-3.0">5</tspan></text>
<text x="158.6" y="732.8" font-size="11.9" fill="#2a2a2a">14.2</text>
<rect x="235.4" y="716.2" width="142.8" height="142.7" fill="none" stroke="#4a4a4a" stroke-width="1"/>
<path d="M233.60,754.00H235.4M233.60,791.53H235.4M233.60,748.03H235.4M233.60,784.64H235.4M233.60,743.79H235.4M233.60,779.76H235.4M233.60,740.50H235.4M233.60,775.97H235.4M233.60,737.82H235.4M233.60,772.87H235.4M233.60,735.55H235.4M233.60,770.26H235.4M233.60,733.59H235.4M233.60,767.99H235.4M233.60,731.85H235.4M233.60,765.99H235.4M233.60,720.10H235.4M231.80,730.30H235.4M231.80,764.20H235.4M231.80,803.30H235.4M231.80,826.70H235.4M231.80,850.20H235.4M233.60,805.90H235.4M233.60,829.31H235.4M233.60,808.50H235.4M233.60,831.92H235.4M233.60,811.10H235.4M233.60,834.53H235.4M233.60,813.70H235.4M233.60,837.14H235.4M233.60,816.30H235.4M233.60,839.76H235.4M233.60,818.90H235.4M233.60,842.37H235.4M233.60,821.50H235.4M233.60,844.98H235.4M233.60,824.10H235.4M233.60,847.59H235.4M233.60,855.20H235.4" stroke="#222" stroke-width="0.8" fill="none"/>
<rect x="231.20000000000002" y="823.9000000000001" width="3.2" height="4.4" fill="#222"/>
<text x="220.20" y="732.30" font-size="5.5" fill="#2a2a2a">10<tspan font-size="4.3" dy="-3.0">5</tspan></text>
<text x="220.20" y="766.20" font-size="5.5" fill="#2a2a2a">10<tspan font-size="4.3" dy="-3.0">4</tspan></text>
<text x="220.20" y="805.30" font-size="5.5" fill="#2a2a2a">10<tspan font-size="4.3" dy="-3.0">3</tspan></text>
<text x="225.10" y="828.70" font-size="5.6" fill="#2a2a2a">0</text>
<text x="216.80" y="852.20" font-size="5.5" fill="#2a2a2a">-10<tspan font-size="4.3" dy="-3.0">3</tspan></text>
<path d="M295.42,858.9000000000001v1.8M329.79,858.9000000000001v1.8M358.99,858.9000000000001v1.8M301.86,858.9000000000001v1.8M334.93,858.9000000000001v1.8M364.13,858.9000000000001v1.8M306.44,858.9000000000001v1.8M338.58,858.9000000000001v1.8M367.78,858.9000000000001v1.8M309.98,858.9000000000001v1.8M341.41,858.9000000000001v1.8M370.61,858.9000000000001v1.8M312.88,858.9000000000001v1.8M343.72,858.9000000000001v1.8M372.92,858.9000000000001v1.8M315.33,858.9000000000001v1.8M345.68,858.9000000000001v1.8M374.88,858.9000000000001v1.8M317.45,858.9000000000001v1.8M347.37,858.9000000000001v1.8M376.57,858.9000000000001v1.8M319.33,858.9000000000001v1.8M348.86,858.9000000000001v1.8M378.06,858.9000000000001v1.8M242.70,858.9000000000001v3.6M266.00,858.9000000000001v3.6M284.40,858.9000000000001v3.6M321.00,858.9000000000001v3.6M350.20,858.9000000000001v3.6M245.29,858.9000000000001v1.8M268.04,858.9000000000001v1.8M247.88,858.9000000000001v1.8M270.09,858.9000000000001v1.8M250.47,858.9000000000001v1.8M272.13,858.9000000000001v1.8M253.06,858.9000000000001v1.8M274.18,858.9000000000001v1.8M255.64,858.9000000000001v1.8M276.22,858.9000000000001v1.8M258.23,858.9000000000001v1.8M278.27,858.9000000000001v1.8M260.82,858.9000000000001v1.8M280.31,858.9000000000001v1.8M263.41,858.9000000000001v1.8M282.36,858.9000000000001v1.8" stroke="#222" stroke-width="0.8" fill="none"/>
<rect x="261.00" y="859.4000000000001" width="5" height="3.2" fill="#222"/>
<text x="266.50" y="871.50" font-size="5.6" fill="#2a2a2a" text-anchor="middle">0</text>
<text x="320.80" y="871.50" font-size="5.5" fill="#2a2a2a">10<tspan font-size="4.3" dy="-3.0">4</tspan></text>
<text x="350.00" y="871.50" font-size="5.5" fill="#2a2a2a">10<tspan font-size="4.3" dy="-3.0">5</tspan></text>
<text x="341.0" y="732.8" font-size="11.9" fill="#2a2a2a">4.0</text>
<line x1="28.4" y1="721.3" x2="28.4" y2="826.2" stroke="#1a1a1a" stroke-width="1.5"/>
<path d="M28.4,713.3 L32.5,722.3 L28.4,721.5 L24.299999999999997,722.3 Z" fill="#111"/>
<text transform="translate(32.8,847.4) rotate(-90)" font-size="11.4" fill="#c1272d" text-anchor="middle">CD8</text>
<text x="57.6" y="885.4" font-size="11.9" fill="#c1272d">CD3</text>
<line x1="91.3" y1="881.0" x2="383.5" y2="881.0" stroke="#2a2a2a" stroke-width="1.6"/>
<path d="M391.5,881.0 L382.3,877.0 L383.2,881.0 L382.3,885.0 Z" fill="#111"/>
<clipPath id="cl1"><path d="M115.40,549.00 C116.03,547.13 117.15,544.90 118.50,543.60 C119.85,542.30 120.58,541.73 123.50,541.20 C126.42,540.67 131.75,540.53 136.00,540.40 C140.25,540.27 145.73,539.70 149.00,540.40 C152.27,541.10 153.90,541.95 155.60,544.60 C157.30,547.25 158.47,552.40 159.20,556.30 C159.93,560.20 160.23,565.08 160.00,568.00 C159.77,570.92 158.90,572.10 157.80,573.80 C156.70,575.50 154.62,576.50 153.40,578.20 C152.18,579.90 150.80,582.18 150.50,584.00 C150.20,585.82 149.90,588.00 151.60,589.10 C153.30,590.20 156.50,589.98 160.70,590.60 C164.90,591.22 173.27,591.70 176.80,592.80 C180.33,593.90 181.42,595.75 181.90,597.20 C182.38,598.65 183.23,600.42 179.70,601.50 C176.17,602.58 171.65,603.33 160.70,603.70 C149.75,604.07 123.25,604.07 114.00,603.70 C104.75,603.33 106.78,602.72 105.20,601.50 C103.62,600.28 104.02,598.33 104.50,596.40 C104.98,594.47 106.52,591.85 108.10,589.90 C109.68,587.95 112.17,586.17 114.00,584.70 C115.83,583.23 118.25,582.67 119.10,581.10 C119.95,579.53 119.47,577.00 119.10,575.30 C118.73,573.60 117.52,572.85 116.90,570.90 C116.28,568.95 115.77,566.28 115.40,563.60 C115.03,560.92 114.70,557.23 114.70,554.80 C114.70,552.37 114.77,550.87 115.40,549.00 Z"/></clipPath>
<path d="M115.40,549.00 C116.03,547.13 117.15,544.90 118.50,543.60 C119.85,542.30 120.58,541.73 123.50,541.20 C126.42,540.67 131.75,540.53 136.00,540.40 C140.25,540.27 145.73,539.70 149.00,540.40 C152.27,541.10 153.90,541.95 155.60,544.60 C157.30,547.25 158.47,552.40 159.20,556.30 C159.93,560.20 160.23,565.08 160.00,568.00 C159.77,570.92 158.90,572.10 157.80,573.80 C156.70,575.50 154.62,576.50 153.40,578.20 C152.18,579.90 150.80,582.18 150.50,584.00 C150.20,585.82 149.90,588.00 151.60,589.10 C153.30,590.20 156.50,589.98 160.70,590.60 C164.90,591.22 173.27,591.70 176.80,592.80 C180.33,593.90 181.42,595.75 181.90,597.20 C182.38,598.65 183.23,600.42 179.70,601.50 C176.17,602.58 171.65,603.33 160.70,603.70 C149.75,604.07 123.25,604.07 114.00,603.70 C104.75,603.33 106.78,602.72 105.20,601.50 C103.62,600.28 104.02,598.33 104.50,596.40 C104.98,594.47 106.52,591.85 108.10,589.90 C109.68,587.95 112.17,586.17 114.00,584.70 C115.83,583.23 118.25,582.67 119.10,581.10 C119.95,579.53 119.47,577.00 119.10,575.30 C118.73,573.60 117.52,572.85 116.90,570.90 C116.28,568.95 115.77,566.28 115.40,563.60 C115.03,560.92 114.70,557.23 114.70,554.80 C114.70,552.37 114.77,550.87 115.40,549.00 Z" fill="#0a2af5" filter="url(#b0)"/>
<g clip-path="url(#cl1)">
<ellipse cx="137.5" cy="560" rx="19" ry="17" fill="#0a5cff" filter="url(#b2)"/>
<ellipse cx="136" cy="582" rx="13" ry="7" fill="#0a5cff" filter="url(#b2)"/>
<ellipse cx="139" cy="559" rx="16" ry="15" fill="#1a90ff" filter="url(#b2)"/>
<path d="M124.00,546.50 C126.58,545.00 133.25,545.00 138.00,545.00 C142.75,545.00 149.67,545.17 152.50,546.50 C155.33,547.83 155.25,550.25 155.00,553.00 C154.75,555.75 152.75,559.83 151.00,563.00 C149.25,566.17 146.18,570.08 144.50,572.00 C142.82,573.92 142.15,574.50 140.90,574.50 C139.65,574.50 138.98,573.92 137.00,572.00 C135.02,570.08 131.42,566.00 129.00,563.00 C126.58,560.00 123.33,556.75 122.50,554.00 C121.67,551.25 121.42,548.00 124.00,546.50 Z" fill="#10e4f0" filter="url(#b2)"/>
<path d="M130.00,550.50 C131.58,549.55 135.92,549.30 139.00,549.30 C142.08,549.30 146.67,549.55 148.50,550.50 C150.33,551.45 150.25,553.08 150.00,555.00 C149.75,556.92 148.17,559.92 147.00,562.00 C145.83,564.08 144.25,566.50 143.00,567.50 C141.75,568.50 140.83,568.92 139.50,568.00 C138.17,567.08 136.67,564.17 135.00,562.00 C133.33,559.83 130.33,556.92 129.50,555.00 C128.67,553.08 128.42,551.45 130.00,550.50 Z" fill="#18f030" filter="url(#b15)"/>
<ellipse cx="128" cy="588" rx="14" ry="4" fill="#1a90ff" filter="url(#b2)"/>
<ellipse cx="142.0" cy="596.6" rx="40.0" ry="8.5" fill="#1a90ff" filter="url(#b1)"/>
<ellipse cx="139.5" cy="596.6" rx="36.5" ry="8.0" fill="#10e4f0" filter="url(#b1)"/>
<ellipse cx="138.25" cy="596.6" rx="31.75" ry="6.0" fill="#18f030" filter="url(#b1)"/>
<ellipse cx="133.25" cy="596.6" rx="22.75" ry="4.0" fill="#e8ff10" filter="url(#b1)"/>
<ellipse cx="129.0" cy="596.6" rx="17.0" ry="3.0" fill="#ff9a10" filter="url(#b1)"/>
<ellipse cx="125.25" cy="596.6" rx="11.75" ry="2.2" fill="#ff1a08" filter="url(#b1)"/>
</g>
<clipPath id="cl2"><path d="M310.00,544.50 C311.90,543.60 316.72,544.20 320.00,544.20 C323.28,544.20 327.22,543.60 329.70,544.50 C332.18,545.40 333.92,547.05 334.90,549.60 C335.88,552.15 334.88,557.37 335.60,559.80 C336.32,562.23 339.08,562.62 339.20,564.20 C339.32,565.78 337.75,568.20 336.30,569.30 C334.85,570.40 332.45,570.18 330.50,570.80 C328.55,571.42 326.18,571.67 324.60,573.00 C323.02,574.33 320.02,576.87 321.00,578.80 C321.98,580.73 327.22,582.90 330.50,584.60 C333.78,586.30 336.82,587.78 340.70,589.00 C344.58,590.22 350.40,590.92 353.80,591.90 C357.20,592.88 359.63,593.68 361.10,594.90 C362.57,596.12 363.08,597.87 362.60,599.20 C362.12,600.53 364.28,602.17 358.20,602.90 C352.12,603.63 337.53,603.60 326.10,603.60 C314.67,603.60 296.65,603.63 289.60,602.90 C282.55,602.17 284.77,600.53 283.80,599.20 C282.83,597.87 282.83,596.72 283.80,594.90 C284.77,593.08 287.90,590.50 289.60,588.30 C291.30,586.10 292.53,584.02 294.00,581.70 C295.47,579.38 296.82,576.72 298.40,574.40 C299.98,572.08 302.17,569.75 303.50,567.80 C304.83,565.85 306.65,564.03 306.40,562.70 C306.15,561.37 302.85,561.25 302.00,559.80 C301.15,558.35 300.93,555.33 301.30,554.00 C301.67,552.67 302.98,552.53 304.20,551.80 C305.42,551.07 307.63,550.82 308.60,549.60 C309.57,548.38 308.10,545.40 310.00,544.50 Z"/></clipPath>
<path d="M310.00,544.50 C311.90,543.60 316.72,544.20 320.00,544.20 C323.28,544.20 327.22,543.60 329.70,544.50 C332.18,545.40 333.92,547.05 334.90,549.60 C335.88,552.15 334.88,557.37 335.60,559.80 C336.32,562.23 339.08,562.62 339.20,564.20 C339.32,565.78 337.75,568.20 336.30,569.30 C334.85,570.40 332.45,570.18 330.50,570.80 C328.55,571.42 326.18,571.67 324.60,573.00 C323.02,574.33 320.02,576.87 321.00,578.80 C321.98,580.73 327.22,582.90 330.50,584.60 C333.78,586.30 336.82,587.78 340.70,589.00 C344.58,590.22 350.40,590.92 353.80,591.90 C357.20,592.88 359.63,593.68 361.10,594.90 C362.57,596.12 363.08,597.87 362.60,599.20 C362.12,600.53 364.28,602.17 358.20,602.90 C352.12,603.63 337.53,603.60 326.10,603.60 C314.67,603.60 296.65,603.63 289.60,602.90 C282.55,602.17 284.77,600.53 283.80,599.20 C282.83,597.87 282.83,596.72 283.80,594.90 C284.77,593.08 287.90,590.50 289.60,588.30 C291.30,586.10 292.53,584.02 294.00,581.70 C295.47,579.38 296.82,576.72 298.40,574.40 C299.98,572.08 302.17,569.75 303.50,567.80 C304.83,565.85 306.65,564.03 306.40,562.70 C306.15,561.37 302.85,561.25 302.00,559.80 C301.15,558.35 300.93,555.33 301.30,554.00 C301.67,552.67 302.98,552.53 304.20,551.80 C305.42,551.07 307.63,550.82 308.60,549.60 C309.57,548.38 308.10,545.40 310.00,544.50 Z" fill="#0a2af5" filter="url(#b0)"/>
<g clip-path="url(#cl2)">
<ellipse cx="320" cy="556" rx="13" ry="10" fill="#0a5cff" filter="url(#b2)"/>
<ellipse cx="320" cy="555" rx="6" ry="5" fill="#1a90ff" filter="url(#b2)"/>
<ellipse cx="306" cy="585" rx="10" ry="8" fill="#0a5cff" filter="url(#b2)"/>
<ellipse cx="324.5" cy="597.7" rx="41.5" ry="6.8" fill="#1a90ff" filter="url(#b1)"/>
<ellipse cx="321.25" cy="597.7" rx="36.75" ry="5.8" fill="#10e4f0" filter="url(#b1)"/>
<ellipse cx="312.0" cy="597.7" rx="25.0" ry="4.2" fill="#18f030" filter="url(#b1)"/>
<ellipse cx="308.5" cy="597.7" rx="18.5" ry="2.7" fill="#e8ff10" filter="url(#b1)"/>
<ellipse cx="302.0" cy="597.7" rx="11.0" ry="2.2" fill="#ff9a10" filter="url(#b1)"/>
<ellipse cx="298.4" cy="597.7" rx="6.599999999999994" ry="1.9" fill="#ff1a08" filter="url(#b1)"/>
</g>
<ellipse cx="304.6" cy="578.8" rx="2.4" ry="3.0" fill="#fff" transform="rotate(25 304.6 578.8)"/>
<clipPath id="cl3"><path d="M143.20,732.30 C144.78,732.53 146.07,733.98 146.80,735.20 C147.53,736.42 146.73,739.07 147.60,739.60 C148.47,740.13 150.30,738.65 152.00,738.40 C153.70,738.15 156.47,737.65 157.80,738.10 C159.13,738.55 159.52,739.63 160.00,741.10 C160.48,742.57 158.88,745.68 160.70,746.90 C162.52,748.12 168.58,747.80 170.90,748.40 C173.22,749.00 174.35,749.65 174.60,750.50 C174.85,751.35 173.75,752.40 172.40,753.50 C171.05,754.60 167.73,755.77 166.50,757.10 C165.27,758.43 166.70,759.80 165.00,761.50 C163.30,763.20 158.35,766.08 156.30,767.30 C154.25,768.52 153.55,767.33 152.70,768.80 C151.85,770.27 151.57,772.93 151.20,776.10 C150.83,779.27 151.35,785.37 150.50,787.80 C149.65,790.23 147.08,788.75 146.10,790.70 C145.12,792.65 145.33,797.18 144.60,799.50 C143.87,801.82 141.93,803.15 141.70,804.60 C141.47,806.05 141.98,806.62 143.20,808.20 C144.42,809.78 146.08,812.63 149.00,814.10 C151.92,815.57 155.83,816.03 160.70,817.00 C165.57,817.97 174.55,818.68 178.20,819.90 C181.85,821.12 182.12,822.60 182.60,824.30 C183.08,826.00 183.53,828.52 181.10,830.10 C178.67,831.68 175.05,833.18 168.00,833.80 C160.95,834.42 148.05,833.93 138.80,833.80 C129.55,833.67 118.10,833.62 112.50,833.00 C106.90,832.38 106.65,831.55 105.20,830.10 C103.75,828.65 103.55,826.00 103.80,824.30 C104.05,822.60 105.73,821.60 106.70,819.90 C107.67,818.20 109.00,816.78 109.60,814.10 C110.20,811.42 110.05,806.73 110.30,803.80 C110.55,800.87 110.62,798.20 111.10,796.50 C111.58,794.80 112.48,794.82 113.20,793.60 C113.92,792.38 115.40,790.90 115.40,789.20 C115.40,787.50 113.20,784.73 113.20,783.40 C113.20,782.07 114.30,781.20 115.40,781.20 C116.50,781.20 118.08,783.15 119.80,783.40 C121.52,783.65 124.12,783.92 125.70,782.70 C127.28,781.48 129.55,777.68 129.30,776.10 C129.05,774.52 126.52,773.93 124.20,773.20 C121.88,772.47 117.58,772.68 115.40,771.70 C113.22,770.72 111.95,769.25 111.10,767.30 C110.25,765.35 110.07,762.43 110.30,760.00 C110.53,757.57 111.15,755.62 112.50,752.70 C113.85,749.78 115.97,745.17 118.40,742.50 C120.83,739.83 123.95,738.15 127.10,736.70 C130.25,735.25 134.62,734.53 137.30,733.80 C139.98,733.07 141.62,732.07 143.20,732.30 Z"/></clipPath>
<path d="M143.20,732.30 C144.78,732.53 146.07,733.98 146.80,735.20 C147.53,736.42 146.73,739.07 147.60,739.60 C148.47,740.13 150.30,738.65 152.00,738.40 C153.70,738.15 156.47,737.65 157.80,738.10 C159.13,738.55 159.52,739.63 160.00,741.10 C160.48,742.57 158.88,745.68 160.70,746.90 C162.52,748.12 168.58,747.80 170.90,748.40 C173.22,749.00 174.35,749.65 174.60,750.50 C174.85,751.35 173.75,752.40 172.40,753.50 C171.05,754.60 167.73,755.77 166.50,757.10 C165.27,758.43 166.70,759.80 165.00,761.50 C163.30,763.20 158.35,766.08 156.30,767.30 C154.25,768.52 153.55,767.33 152.70,768.80 C151.85,770.27 151.57,772.93 151.20,776.10 C150.83,779.27 151.35,785.37 150.50,787.80 C149.65,790.23 147.08,788.75 146.10,790.70 C145.12,792.65 145.33,797.18 144.60,799.50 C143.87,801.82 141.93,803.15 141.70,804.60 C141.47,806.05 141.98,806.62 143.20,808.20 C144.42,809.78 146.08,812.63 149.00,814.10 C151.92,815.57 155.83,816.03 160.70,817.00 C165.57,817.97 174.55,818.68 178.20,819.90 C181.85,821.12 182.12,822.60 182.60,824.30 C183.08,826.00 183.53,828.52 181.10,830.10 C178.67,831.68 175.05,833.18 168.00,833.80 C160.95,834.42 148.05,833.93 138.80,833.80 C129.55,833.67 118.10,833.62 112.50,833.00 C106.90,832.38 106.65,831.55 105.20,830.10 C103.75,828.65 103.55,826.00 103.80,824.30 C104.05,822.60 105.73,821.60 106.70,819.90 C107.67,818.20 109.00,816.78 109.60,814.10 C110.20,811.42 110.05,806.73 110.30,803.80 C110.55,800.87 110.62,798.20 111.10,796.50 C111.58,794.80 112.48,794.82 113.20,793.60 C113.92,792.38 115.40,790.90 115.40,789.20 C115.40,787.50 113.20,784.73 113.20,783.40 C113.20,782.07 114.30,781.20 115.40,781.20 C116.50,781.20 118.08,783.15 119.80,783.40 C121.52,783.65 124.12,783.92 125.70,782.70 C127.28,781.48 129.55,777.68 129.30,776.10 C129.05,774.52 126.52,773.93 124.20,773.20 C121.88,772.47 117.58,772.68 115.40,771.70 C113.22,770.72 111.95,769.25 111.10,767.30 C110.25,765.35 110.07,762.43 110.30,760.00 C110.53,757.57 111.15,755.62 112.50,752.70 C113.85,749.78 115.97,745.17 118.40,742.50 C120.83,739.83 123.95,738.15 127.10,736.70 C130.25,735.25 134.62,734.53 137.30,733.80 C139.98,733.07 141.62,732.07 143.20,732.30 Z" fill="#0a2af5" filter="url(#b0)"/>
<g clip-path="url(#cl3)">
<ellipse cx="136" cy="752" rx="20" ry="13" fill="#0a5cff" filter="url(#b2)"/>
<ellipse cx="130" cy="750" rx="9" ry="6" fill="#1a90ff" filter="url(#b2)"/>
<ellipse cx="145" cy="755" rx="7" ry="5" fill="#1a90ff" filter="url(#b2)"/>
<ellipse cx="135" cy="790" rx="12" ry="14" fill="#0a5cff" filter="url(#b2)"/>
<ellipse cx="127" cy="810" rx="11" ry="7" fill="#1a90ff" filter="url(#b2)"/>
<ellipse cx="144.0" cy="825.9" rx="41.0" ry="8.0" fill="#1a90ff" filter="url(#b1)"/>
<ellipse cx="142.75" cy="825.9" rx="38.25" ry="7.2" fill="#10e4f0" filter="url(#b1)"/>
<ellipse cx="134.0" cy="825.9" rx="25.0" ry="4.8" fill="#18f030" filter="url(#b1)"/>
<ellipse cx="134.0" cy="825.9" rx="18.5" ry="2.8" fill="#e8ff10" filter="url(#b1)"/>
<ellipse cx="137.25" cy="825.9" rx="12.75" ry="2.1" fill="#ff9a10" filter="url(#b1)"/>
<ellipse cx="137.9" cy="825.9" rx="8.099999999999994" ry="1.5" fill="#ff1a08" filter="url(#b1)"/>
</g>
<circle cx="157" cy="779.3" r="2.1" fill="#0a2af5"/>
<clipPath id="cl4"><path d="M311.50,782.60 C312.97,781.52 316.37,780.65 318.80,780.40 C321.23,780.15 324.40,780.62 326.10,781.10 C327.80,781.58 328.88,782.57 329.00,783.30 C329.12,784.03 327.90,785.03 326.80,785.50 C325.70,785.97 323.37,785.13 322.40,786.10 C321.43,787.07 321.00,789.22 321.00,791.30 C321.00,793.38 322.65,795.92 322.40,798.60 C322.15,801.28 319.85,805.45 319.50,807.40 C319.15,809.35 318.95,809.08 320.30,810.30 C321.65,811.52 324.20,813.60 327.60,814.70 C331.00,815.80 335.83,816.17 340.70,816.90 C345.57,817.63 353.15,818.25 356.80,819.10 C360.45,819.95 361.52,820.67 362.60,822.00 C363.68,823.33 364.03,825.40 363.30,827.10 C362.57,828.80 361.97,830.98 358.20,832.20 C354.43,833.42 349.70,833.92 340.70,834.40 C331.70,834.88 313.20,835.23 304.20,835.10 C295.20,834.97 290.35,834.82 286.70,833.60 C283.05,832.38 282.78,829.73 282.30,827.80 C281.82,825.87 282.95,823.70 283.80,822.00 C284.65,820.30 286.43,819.30 287.40,817.60 C288.37,815.90 288.87,814.48 289.60,811.80 C290.33,809.12 291.20,804.43 291.80,801.50 C292.40,798.57 292.60,796.13 293.20,794.20 C293.80,792.27 294.90,790.98 295.40,789.90 C295.90,788.82 295.58,787.47 296.20,787.70 C296.82,787.93 297.65,790.22 299.10,791.30 C300.55,792.38 303.32,793.95 304.90,794.20 C306.48,794.45 307.75,794.02 308.60,792.80 C309.45,791.58 309.52,788.60 310.00,786.90 C310.48,785.20 310.03,783.68 311.50,782.60 Z"/><path d="M317.30,737.30 C317.92,736.93 319.32,737.83 320.30,738.80 C321.28,739.77 322.12,741.40 323.20,743.10 C324.28,744.80 326.20,747.53 326.80,749.00 C327.40,750.47 327.40,750.93 326.80,751.90 C326.20,752.87 324.28,753.47 323.20,754.80 C322.12,756.13 321.52,758.92 320.30,759.90 C319.08,760.88 317.62,759.97 315.90,760.70 C314.18,761.43 312.68,763.58 310.00,764.30 C307.32,765.02 302.10,765.25 299.80,765.00 C297.50,764.75 296.68,763.88 296.20,762.80 C295.72,761.72 295.82,760.57 296.90,758.50 C297.98,756.43 300.75,751.98 302.70,750.40 C304.65,748.82 306.77,749.12 308.60,749.00 C310.43,748.88 312.37,750.18 313.70,749.70 C315.03,749.22 316.12,747.55 316.60,746.10 C317.08,744.65 316.48,742.47 316.60,741.00 C316.72,739.53 316.68,737.67 317.30,737.30 Z"/></clipPath>
<path d="M311.50,782.60 C312.97,781.52 316.37,780.65 318.80,780.40 C321.23,780.15 324.40,780.62 326.10,781.10 C327.80,781.58 328.88,782.57 329.00,783.30 C329.12,784.03 327.90,785.03 326.80,785.50 C325.70,785.97 323.37,785.13 322.40,786.10 C321.43,787.07 321.00,789.22 321.00,791.30 C321.00,793.38 322.65,795.92 322.40,798.60 C322.15,801.28 319.85,805.45 319.50,807.40 C319.15,809.35 318.95,809.08 320.30,810.30 C321.65,811.52 324.20,813.60 327.60,814.70 C331.00,815.80 335.83,816.17 340.70,816.90 C345.57,817.63 353.15,818.25 356.80,819.10 C360.45,819.95 361.52,820.67 362.60,822.00 C363.68,823.33 364.03,825.40 363.30,827.10 C362.57,828.80 361.97,830.98 358.20,832.20 C354.43,833.42 349.70,833.92 340.70,834.40 C331.70,834.88 313.20,835.23 304.20,835.10 C295.20,834.97 290.35,834.82 286.70,833.60 C283.05,832.38 282.78,829.73 282.30,827.80 C281.82,825.87 282.95,823.70 283.80,822.00 C284.65,820.30 286.43,819.30 287.40,817.60 C288.37,815.90 288.87,814.48 289.60,811.80 C290.33,809.12 291.20,804.43 291.80,801.50 C292.40,798.57 292.60,796.13 293.20,794.20 C293.80,792.27 294.90,790.98 295.40,789.90 C295.90,788.82 295.58,787.47 296.20,787.70 C296.82,787.93 297.65,790.22 299.10,791.30 C300.55,792.38 303.32,793.95 304.90,794.20 C306.48,794.45 307.75,794.02 308.60,792.80 C309.45,791.58 309.52,788.60 310.00,786.90 C310.48,785.20 310.03,783.68 311.50,782.60 Z" fill="#0a2af5" filter="url(#b0)"/>
<path d="M317.30,737.30 C317.92,736.93 319.32,737.83 320.30,738.80 C321.28,739.77 322.12,741.40 323.20,743.10 C324.28,744.80 326.20,747.53 326.80,749.00 C327.40,750.47 327.40,750.93 326.80,751.90 C326.20,752.87 324.28,753.47 323.20,754.80 C322.12,756.13 321.52,758.92 320.30,759.90 C319.08,760.88 317.62,759.97 315.90,760.70 C314.18,761.43 312.68,763.58 310.00,764.30 C307.32,765.02 302.10,765.25 299.80,765.00 C297.50,764.75 296.68,763.88 296.20,762.80 C295.72,761.72 295.82,760.57 296.90,758.50 C297.98,756.43 300.75,751.98 302.70,750.40 C304.65,748.82 306.77,749.12 308.60,749.00 C310.43,748.88 312.37,750.18 313.70,749.70 C315.03,749.22 316.12,747.55 316.60,746.10 C317.08,744.65 316.48,742.47 316.60,741.00 C316.72,739.53 316.68,737.67 317.30,737.30 Z" fill="#0a2af5" filter="url(#b0)"/>
<g clip-path="url(#cl4)">
<ellipse cx="306" cy="756" rx="8" ry="5" fill="#0a5cff" filter="url(#b2)"/>
<ellipse cx="305" cy="805" rx="12" ry="12" fill="#0a5cff" filter="url(#b2)"/>
<ellipse cx="324.5" cy="825.9" rx="41.5" ry="7.0" fill="#1a90ff" filter="url(#b1)"/>
<ellipse cx="318.5" cy="825.9" rx="33.5" ry="6.0" fill="#10e4f0" filter="url(#b1)"/>
<ellipse cx="310.0" cy="825.9" rx="22.0" ry="3.9" fill="#18f030" filter="url(#b1)"/>
<ellipse cx="307.25" cy="825.9" rx="16.25" ry="2.3" fill="#e8ff10" filter="url(#b1)"/>
<ellipse cx="301.75" cy="825.9" rx="10.25" ry="1.9" fill="#ff9a10" filter="url(#b1)"/>
<ellipse cx="298.4" cy="825.9" rx="6.599999999999994" ry="1.7" fill="#ff1a08" filter="url(#b1)"/>
</g>
<circle cx="310.5" cy="744.2" r="0.9" fill="#0a2af5"/>
<line x1="56.2" y1="576.4" x2="199.0" y2="576.4" stroke="#111" stroke-width="1.4"/>
<line x1="235.4" y1="576.4" x2="378.20000000000005" y2="576.4" stroke="#111" stroke-width="1.4"/>
<line x1="56.2" y1="803.7" x2="199.0" y2="803.7" stroke="#111" stroke-width="1.4"/>
<line x1="235.4" y1="803.7" x2="378.20000000000005" y2="803.7" stroke="#111" stroke-width="1.4"/>
<text x="385.0" y="467.3" font-size="17.6" font-weight="bold" fill="#000">E</text>
<text x="512.0" y="473.1" font-size="9.75" font-weight="bold" fill="#111">CD4+ T cells</text>
<line x1="421.7" y1="640.10" x2="429.3" y2="640.10" stroke="#000" stroke-width="2.6"/>
<text x="421.3" y="644.0" font-size="10.4" font-weight="bold" text-anchor="end" fill="#111">0</text>
<line x1="421.7" y1="610.30" x2="429.3" y2="610.30" stroke="#000" stroke-width="2.6"/>
<text x="421.3" y="614.2" font-size="10.4" font-weight="bold" text-anchor="end" fill="#111">20</text>
<line x1="421.7" y1="580.50" x2="429.3" y2="580.50" stroke="#000" stroke-width="2.6"/>
<text x="421.3" y="584.4" font-size="10.4" font-weight="bold" text-anchor="end" fill="#111">40</text>
<line x1="421.7" y1="550.70" x2="429.3" y2="550.70" stroke="#000" stroke-width="2.6"/>
<text x="421.3" y="554.6" font-size="10.4" font-weight="bold" text-anchor="end" fill="#111">60</text>
<line x1="421.7" y1="520.90" x2="429.3" y2="520.90" stroke="#000" stroke-width="2.6"/>
<text x="421.3" y="524.8" font-size="10.4" font-weight="bold" text-anchor="end" fill="#111">80</text>
<line x1="421.7" y1="491.10" x2="429.3" y2="491.10" stroke="#000" stroke-width="2.6"/>
<text x="421.3" y="495.0" font-size="10.4" font-weight="bold" text-anchor="end" fill="#111">100</text>
<text transform="translate(396.6,565.30) rotate(-90)" font-size="10.8" font-weight="bold" fill="#111" text-anchor="middle">%</text>
<line x1="493.4" y1="640.1" x2="493.4" y2="648.1" stroke="#000" stroke-width="2.8"/>
<text x="493.4" y="658.1" font-size="11.3" font-weight="bold" text-anchor="middle" fill="#111">Treated flank</text>
<line x1="589.6" y1="640.1" x2="589.6" y2="648.1" stroke="#000" stroke-width="2.8"/>
<text x="589.6" y="658.1" font-size="11.3" font-weight="bold" text-anchor="middle" fill="#111">Untreated flank</text>
<rect x="462.1" y="605.34" width="62.6" height="34.76" fill="url(#hatch)" stroke="#0fcc0f" stroke-width="2.6"/>
<rect x="558.5" y="626.65" width="61.6" height="13.45" fill="#fff" stroke="#0fcc0f" stroke-width="2.6"/>
<path d="M429.3,490.1 L429.3,640.1 L653.5,640.1" fill="none" stroke="#000" stroke-width="3.0"/>
<path d="M493.4,614.77 V594.80 M477.09999999999997,594.80 H509.7 M477.09999999999997,614.77 H509.7" stroke="#0fcc0f" stroke-width="1.3" fill="none"/>
<path d="M589.6,634.29 V615.51 M573.3000000000001,615.51 H605.9 M573.3000000000001,634.29 H605.9" stroke="#0fcc0f" stroke-width="1.3" fill="none"/>
<circle cx="493.4" cy="589.74" r="2.4" fill="#0fcc0f"/>
<circle cx="493.4" cy="599.42" r="2.4" fill="#0fcc0f"/>
<circle cx="497.79999999999995" cy="603.89" r="2.4" fill="#0fcc0f"/>
<circle cx="489.2" cy="606.13" r="2.4" fill="#0fcc0f"/>
<circle cx="493.4" cy="611.94" r="2.4" fill="#0fcc0f"/>
<circle cx="493.4" cy="618.35" r="2.4" fill="#0fcc0f"/>
<circle cx="589.0" cy="609.56" r="2.6" fill="none" stroke="#0fcc0f" stroke-width="1.5"/>
<circle cx="589.0" cy="619.69" r="2.6" fill="none" stroke="#0fcc0f" stroke-width="1.5"/>
<circle cx="593.8000000000001" cy="625.65" r="2.6" fill="none" stroke="#0fcc0f" stroke-width="1.5"/>
<circle cx="586.0" cy="627.58" r="2.6" fill="none" stroke="#0fcc0f" stroke-width="1.5"/>
<circle cx="592.6" cy="633.39" r="2.6" fill="none" stroke="#0fcc0f" stroke-width="1.5"/>
<circle cx="585.8000000000001" cy="635.33" r="2.6" fill="none" stroke="#0fcc0f" stroke-width="1.5"/>
<path d="M493.4,581.69 V571.56 H589.6 V601.66" fill="none" stroke="#000" stroke-width="1.9"/>
<path d="M541.4,560.66 V566.46 M538.90,562.11 L543.90,565.01 M538.90,565.01 L543.90,562.11" stroke="#111" stroke-width="1.5"/>
<circle cx="591.5" cy="511.40" r="2.3" fill="#0fcc0f"/>
<circle cx="591.5" cy="529.20" r="2.7" fill="none" stroke="#0fcc0f" stroke-width="1.5"/>
<text x="608.2" y="515.1" font-size="10.1" fill="#222">Treated flank</text>
<text x="608.2" y="532.9" font-size="10.1" fill="#222">Untreated flank</text>
<text x="389.6" y="700.9" font-size="17.6" font-weight="bold" fill="#000">G</text>
<text x="512.0" y="698.0" font-size="9.75" font-weight="bold" fill="#111">CD8+ T cells</text>
<line x1="422.29999999999995" y1="865.10" x2="429.9" y2="865.10" stroke="#000" stroke-width="2.6"/>
<text x="421.3" y="869.0" font-size="10.4" font-weight="bold" text-anchor="end" fill="#111">0</text>
<line x1="422.29999999999995" y1="835.34" x2="429.9" y2="835.34" stroke="#000" stroke-width="2.6"/>
<text x="421.3" y="839.24" font-size="10.4" font-weight="bold" text-anchor="end" fill="#111">20</text>
<line x1="422.29999999999995" y1="805.58" x2="429.9" y2="805.58" stroke="#000" stroke-width="2.6"/>
<text x="421.3" y="809.48" font-size="10.4" font-weight="bold" text-anchor="end" fill="#111">40</text>
<line x1="422.29999999999995" y1="775.82" x2="429.9" y2="775.82" stroke="#000" stroke-width="2.6"/>
<text x="421.3" y="779.72" font-size="10.4" font-weight="bold" text-anchor="end" fill="#111">60</text>
<line x1="422.29999999999995" y1="746.06" x2="429.9" y2="746.06" stroke="#000" stroke-width="2.6"/>
<text x="421.3" y="749.96" font-size="10.4" font-weight="bold" text-anchor="end" fill="#111">80</text>
<line x1="422.29999999999995" y1="716.30" x2="429.9" y2="716.30" stroke="#000" stroke-width="2.6"/>
<text x="421.3" y="720.2" font-size="10.4" font-weight="bold" text-anchor="end" fill="#111">100</text>
<text transform="translate(396.6,790.40) rotate(-90)" font-size="10.8" font-weight="bold" fill="#111" text-anchor="middle">%</text>
<line x1="493.4" y1="865.1" x2="493.4" y2="873.1" stroke="#000" stroke-width="2.8"/>
<text x="496.2" y="883.1" font-size="11.3" font-weight="bold" text-anchor="middle" fill="#111">Treated flank</text>
<line x1="589.6" y1="865.1" x2="589.6" y2="873.1" stroke="#000" stroke-width="2.8"/>
<text x="589.6" y="883.1" font-size="11.3" font-weight="bold" text-anchor="middle" fill="#111">Untreated flank</text>
<rect x="462.1" y="832.77" width="62.6" height="32.33" fill="url(#hatch)" stroke="#0fcc0f" stroke-width="2.6"/>
<rect x="558.5" y="852.41" width="61.6" height="12.69" fill="#fff" stroke="#0fcc0f" stroke-width="2.6"/>
<path d="M429.9,715.3 L429.9,865.1 L653.5,865.1" fill="none" stroke="#000" stroke-width="3.0"/>
<path d="M493.4,839.95 V823.29 M477.09999999999997,823.29 H509.7 M477.09999999999997,839.95 H509.7" stroke="#0fcc0f" stroke-width="1.3" fill="none"/>
<path d="M589.6,860.64 V840.25 M573.3000000000001,840.25 H605.9 M573.3000000000001,860.64 H605.9" stroke="#0fcc0f" stroke-width="1.3" fill="none"/>
<circle cx="489.2" cy="823.14" r="2.4" fill="#0fcc0f"/>
<circle cx="497.59999999999997" cy="822.84" r="2.4" fill="#0fcc0f"/>
<circle cx="489.2" cy="832.07" r="2.4" fill="#0fcc0f"/>
<circle cx="497.59999999999997" cy="832.36" r="2.4" fill="#0fcc0f"/>
<circle cx="493.4" cy="838.32" r="2.4" fill="#0fcc0f"/>
<circle cx="493.4" cy="844.27" r="2.4" fill="#0fcc0f"/>
<circle cx="585.2" cy="839.06" r="2.6" fill="none" stroke="#0fcc0f" stroke-width="1.5"/>
<circle cx="593.8000000000001" cy="836.68" r="2.6" fill="none" stroke="#0fcc0f" stroke-width="1.5"/>
<circle cx="585.2" cy="853.49" r="2.6" fill="none" stroke="#0fcc0f" stroke-width="1.5"/>
<circle cx="593.8000000000001" cy="853.20" r="2.6" fill="none" stroke="#0fcc0f" stroke-width="1.5"/>
<circle cx="585.2" cy="860.34" r="2.6" fill="none" stroke="#0fcc0f" stroke-width="1.5"/>
<circle cx="593.8000000000001" cy="859.45" r="2.6" fill="none" stroke="#0fcc0f" stroke-width="1.5"/>
<path d="M493.4,814.51 V804.69 H589.6 V827.45" fill="none" stroke="#000" stroke-width="1.9"/>
<path d="M541.4,793.79 V799.59 M538.90,795.24 L543.90,798.14 M538.90,798.14 L543.90,795.24" stroke="#111" stroke-width="1.5"/>
<circle cx="591.5" cy="736.60" r="2.3" fill="#0fcc0f"/>
<circle cx="591.5" cy="754.40" r="2.7" fill="none" stroke="#0fcc0f" stroke-width="1.5"/>
<text x="608.2" y="740.3" font-size="10.1" fill="#222">Treated flank</text>
<text x="608.2" y="758.1" font-size="10.1" fill="#222">Untreated flank</text>
</svg>
</body></html>
